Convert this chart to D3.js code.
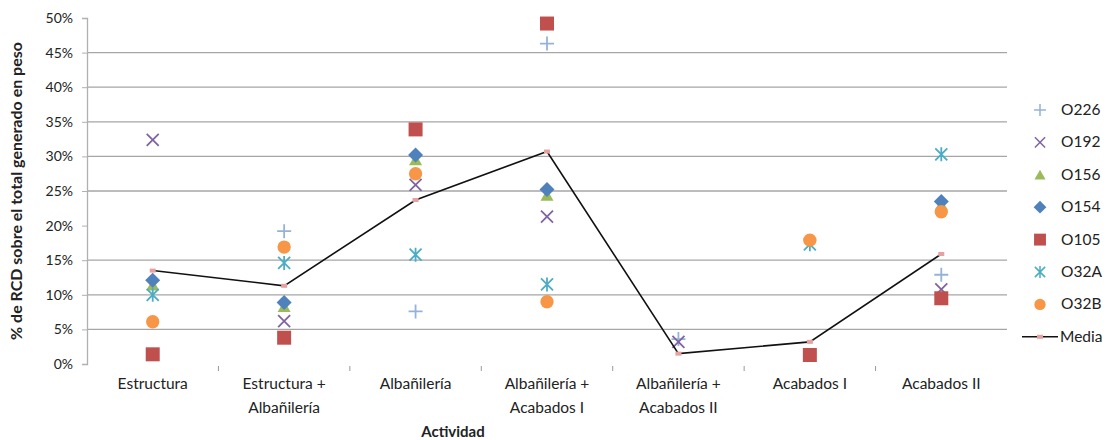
<!DOCTYPE html>
<html>
<head>
<meta charset="utf-8">
<script src="https://cdn.jsdelivr.net/npm/d3@7"></script>
<style>
  body { margin: 0; background: #fff; }
  text { font-family: Lato, "Open Sans", sans-serif; fill: #222; }
</style>
</head>
<body>
<svg id="chart" width="1110" height="440"></svg>
<script>
// categories (each line of the label)
var categories = [
  ["Estructura"],
  ["Estructura +", "Albañilería"],
  ["Albañilería"],
  ["Albañilería +", "Acabados I"],
  ["Albañilería +", "Acabados II"],
  ["Acabados I"],
  ["Acabados II"]
];
var yTicks = [0, 5, 10, 15, 20, 25, 30, 35, 40, 45, 50];

// values in % (null = no point)
var o226 = [null, 19.2, 7.6, 46.3, 3.6, null, 12.9];
var o192 = [32.4, 6.2, 25.9, 21.3, 3.2, null, 10.8];
var o156 = [11.4, 8.3, 29.5, 24.4, null, null, 23.0];
var o154 = [12.1, 8.9, 30.2, 25.2, null, null, 23.5];
var o105 = [1.4, 3.8, 33.9, 49.2, null, 1.3, 9.5];
var o32a = [10.0, 14.6, 15.8, 11.5, null, 17.3, 30.3];
var o32b = [6.1, 16.9, 27.5, 9.0, null, 17.9, 22.0];
var media = [13.5, 11.3, 23.7, 30.7, 1.5, 3.2, 15.9];

var series = [
  {name: "O226", values: o226, shape: "plus", color: "#95b3d7"},
  {name: "O192", values: o192, shape: "x", color: "#8064a2"},
  {name: "O156", values: o156, shape: "triangle", color: "#9bbb59"},
  {name: "O154", values: o154, shape: "diamond", color: "#4f81bd"},
  {name: "O105", values: o105, shape: "square", color: "#c0504d"},
  {name: "O32A", values: o32a, shape: "star", color: "#4bacc6"},
  {name: "O32B", values: o32b, shape: "circle", color: "#f79646"}
];

var svg = d3.select("#chart");
var pLeft = 87, pRight = 1007, pTop = 18, pBottom = 364;

var catKeys = categories.map(function(c) { return c.join(" "); });
var scX = d3.scaleBand().domain(catKeys).range([pLeft, pRight]);
var scY = d3.scaleLinear().domain([0, 50]).range([pBottom, pTop]);
var cx = function(i) { return scX(catKeys[i]) + scX.bandwidth() / 2; };

// gridlines (the 20% line is not visible in the source)
svg.append("g").selectAll("line")
  .data(yTicks.filter(function(t) { return t > 0 && t < 50 && t !== 20; }))
  .enter().append("line")
  .attr("x1", pLeft).attr("x2", pRight)
  .attr("y1", function(d) { return scY(d); })
  .attr("y2", function(d) { return scY(d); })
  .attr("stroke", "#a6a6a6").attr("stroke-width", 1.3);

// y axis
var yAx = svg.append("g")
  .attr("transform", "translate(" + pLeft + ",0)")
  .call(d3.axisLeft(scY).tickValues(yTicks).tickSize(5).tickPadding(9)
    .tickFormat(function(d) { return d + "%"; }));
yAx.select(".domain").attr("stroke", "#b0b0b0").attr("stroke-width", 1.3);
yAx.selectAll(".tick line").attr("stroke", "#b0b0b0");
yAx.selectAll("text").style("font-size", "14px").attr("fill", "#333")
  .style("font-family", "Lato, sans-serif");

// x axis ticks at category boundaries
var bounds = catKeys.slice(1).map(function(k) { return scX(k); });
svg.append("g").selectAll("line").data(bounds).enter().append("line")
  .attr("x1", function(d) { return d; }).attr("x2", function(d) { return d; })
  .attr("y1", pBottom + 2).attr("y2", pBottom + 7)
  .attr("stroke", "#999");

// x labels
var xl = svg.append("g").selectAll("text").data(categories).enter().append("text")
  .attr("text-anchor", "middle")
  .style("font-size", "15.5px")
  .attr("fill", "#333");
xl.each(function(d, i) {
  var t = d3.select(this);
  d.forEach(function(line, j) {
    t.append("tspan").attr("x", cx(i)).attr("y", 389 + j * 24).text(line);
  });
});

// axis titles
svg.append("text").attr("x", 453).attr("y", 437).attr("text-anchor", "middle")
  .style("font-size", "15px").style("font-weight", "bold").text("Actividad");
svg.append("text")
  .attr("transform", "translate(22," + ((pTop + pBottom) / 2) + ") rotate(-90)")
  .attr("text-anchor", "middle")
  .style("font-size", "16px").style("font-weight", "bold")
  .text("% de RCD sobre el total generado en peso");

// marker shapes
function shapePath(shape) {
  switch (shape) {
    case "plus": return "M-7,0H7M0,-7V7";
    case "x": return "M-6,-6L6,6M-6,6L6,-6";
    case "star": return "M-6,-6L6,6M-6,6L6,-6M0,-7V7";
    case "triangle": return "M0,-6L6.5,5.5H-6.5Z";
    case "diamond": return "M0,-7.5L7.5,0L0,7.5L-7.5,0Z";
    case "square": return "M-7,-7H7V7H-7Z";
    case "circle": return d3.symbol(d3.symbolCircle, 140)();
  }
}
function isLine(shape) { return shape === "plus" || shape === "x" || shape === "star"; }

function drawMarker(g, s) {
  g.append("path").attr("d", shapePath(s.shape))
    .attr("fill", isLine(s.shape) ? "none" : s.color)
    .attr("stroke", isLine(s.shape) ? s.color : "none")
    .attr("stroke-width", 1.8);
}

// points
series.forEach(function(s) {
  var g = svg.append("g");
  s.values.forEach(function(v, i) {
    if (v === null) return;
    var mg = g.append("g").attr("transform", "translate(" + cx(i) + "," + scY(v) + ")");
    drawMarker(mg, s);
  });
});

// media line
var lnMkr = d3.line()
  .x(function(d, i) { return cx(i); })
  .y(function(d) { return scY(d); });
svg.append("path").attr("d", lnMkr(media))
  .attr("fill", "none").attr("stroke", "#111").attr("stroke-width", 1.6);
svg.append("g").selectAll("rect").data(media).enter().append("rect")
  .attr("x", function(d, i) { return cx(i) - 3; })
  .attr("y", function(d) { return scY(d) - 2; })
  .attr("width", 6).attr("height", 4)
  .attr("fill", "#e6a0a0");

// legend
var leg = svg.append("g");
series.forEach(function(s, i) {
  var y = 110 + i * 32.4;
  var mg = leg.append("g").attr("transform", "translate(1040," + y + ") scale(0.85)");
  drawMarker(mg, s);
  leg.append("text").attr("x", 1061).attr("y", y + 5)
    .style("font-size", "15.5px").attr("fill", "#333").text(s.name);
});
var my = 110 + 7 * 32.4;
leg.append("line").attr("x1", 1022).attr("x2", 1058).attr("y1", my).attr("y2", my)
  .attr("stroke", "#111").attr("stroke-width", 1.6);
leg.append("rect").attr("x", 1037).attr("y", my - 2).attr("width", 6).attr("height", 4)
  .attr("fill", "#e6a0a0");
leg.append("text").attr("x", 1060).attr("y", my + 5)
  .style("font-size", "15.5px").attr("fill", "#333").text("Media");
</script>
</body>
</html>
